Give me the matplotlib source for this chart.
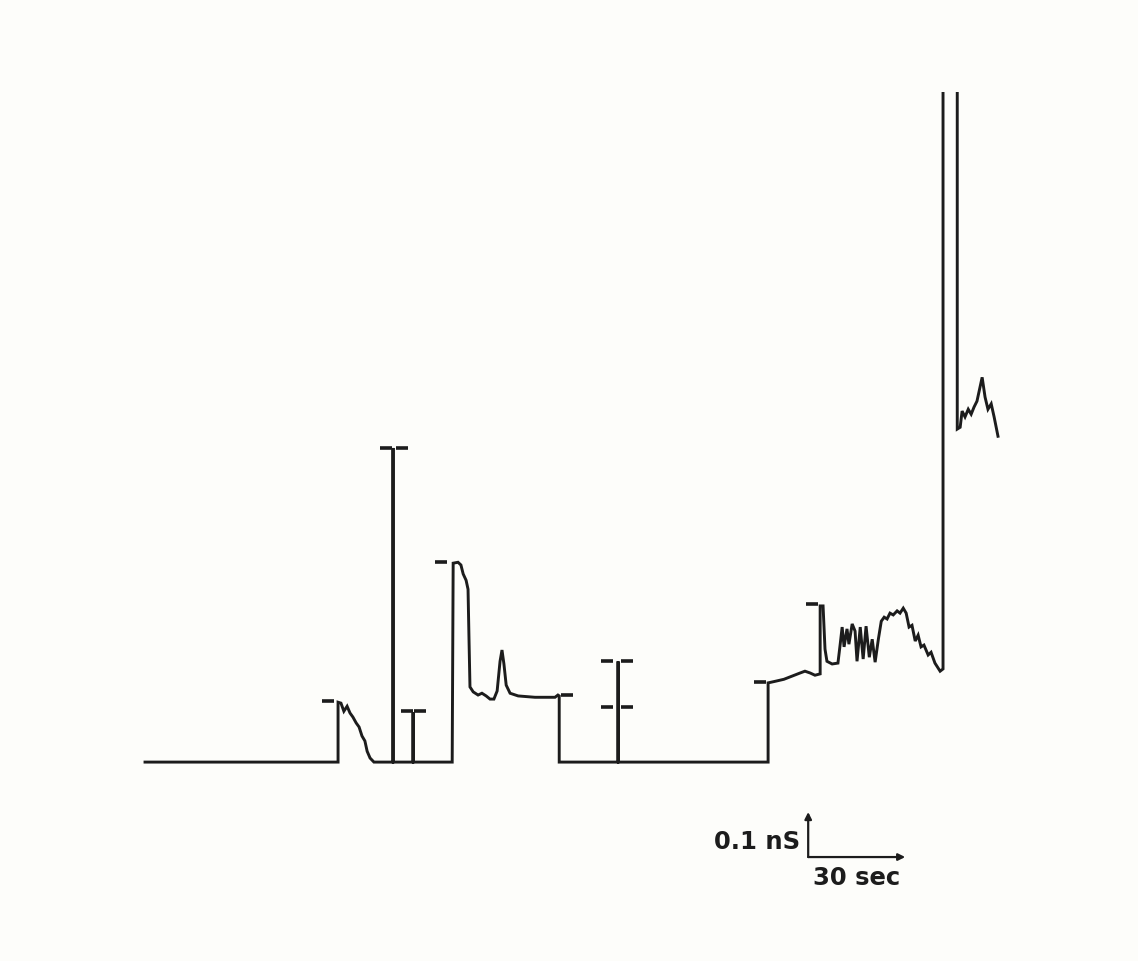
import matplotlib.pyplot as plt

# conductance trace, time in sec, conductance in nS (values > 1.5 are off scale)
trace_t = [0, 59.7, 59.7, 60.6, 61.5, 62.5, 63.4, 64.3, 65.3, 66.2, 67.1, 68.0, 68.7, 69.6, 70.8,
           76.6, 76.7, 76.8, 82.8, 82.9, 83.0,
           95.0, 95.3, 96.8, 97.7, 98.4, 99.3, 99.9, 100.2, 100.5, 101.5, 103.0, 104.2, 105.5,
           106.7, 107.9, 108.9, 109.8, 110.4, 111.0, 111.7, 112.9, 115.4, 120.6, 126.8, 127.7,
           128.1, 128.1,
           146.2, 146.3, 146.4,
           192.7, 192.7, 195.2, 197.6, 200.1, 202.6, 204.1, 205.7, 207.2, 208.8, 208.8, 209.7,
           210.3, 210.9, 212.5, 214.3, 215.0, 215.6, 216.2, 217.1, 217.7, 218.7, 219.6, 220.2,
           221.2, 222.1, 223.0, 224.0, 224.9, 225.8, 226.8, 227.7, 228.6, 229.5, 230.4, 231.4,
           232.6, 233.5, 234.5, 235.4, 236.3, 237.2, 238.2, 239.1, 240.0, 240.9, 242.2, 243.1,
           244.3, 245.9, 246.8,
           246.8, 251.2, 251.2, 252.1, 252.7, 253.6, 254.6, 255.5, 256.4, 257.3, 258.9, 259.8,
           260.7, 261.7, 262.6, 263.8]
trace_g = [0, 0, 0.133, 0.131, 0.113, 0.124, 0.109, 0.100, 0.087, 0.078, 0.058, 0.047, 0.024, 0.009, 0,
           0, 0.698, 0, 0, 0.111, 0,
           0, 0.442, 0.444, 0.438, 0.418, 0.404, 0.384, 0.273, 0.167, 0.156, 0.149, 0.153, 0.147,
           0.140, 0.140, 0.158, 0.224, 0.249, 0.218, 0.171, 0.153, 0.147, 0.144, 0.144, 0.149,
           0.147, 0,
           0, 0.224, 0,
           0, 0.176, 0.180, 0.184, 0.191, 0.198, 0.202, 0.198, 0.193, 0.196, 0.347, 0.347,
           0.251, 0.224, 0.218, 0.220, 0.262, 0.300, 0.256, 0.296, 0.262, 0.307, 0.291, 0.224,
           0.300, 0.229, 0.302, 0.233, 0.273, 0.222, 0.273, 0.313, 0.322, 0.318, 0.331, 0.327,
           0.336, 0.331, 0.342, 0.331, 0.300, 0.304, 0.269, 0.282, 0.256, 0.260, 0.238, 0.244,
           0.220, 0.202, 0.207,
           2.0, 2.0, 0.740, 0.744, 0.780, 0.767, 0.784, 0.773, 0.789, 0.802, 0.855, 0.811,
           0.784, 0.796, 0.767, 0.724]

# short level marks drawn beside the steps
mark_t = [56.6, 74.5, 79.5, 81.0, 85.1, 91.6, 130.5, 142.9, 149.1, 142.9, 149.1, 190.2, 206.3]
mark_g = [0.136, 0.698, 0.698, 0.113, 0.113, 0.444, 0.149, 0.224, 0.224, 0.122, 0.122, 0.178, 0.351]

# scale bar
bar_t0, bar_g0 = 205.1, -0.211
bar_dt, bar_dg = 30, 0.1
bar_labels = ['0.1 nS', '30 sec']

ink = '#1c1c1c'
fig = plt.figure(figsize=(11.38, 9.62), dpi=100, facecolor='#fdfdfa')
ax = fig.add_axes([0, 0, 1, 1 - 93 / 962])
ax.set_facecolor('#fdfdfa')
ax.set_xlim(-44.85, 307.1)
ax.set_ylim(-0.442, 1.489)
ax.axis('off')

ax.plot(trace_t, trace_g, color=ink, lw=2.1, solid_joinstyle='miter')
ax.plot(mark_t, mark_g, ls='none', marker='_', ms=8, mew=2.6, color=ink)

arrow = dict(arrowstyle='-|>', color=ink, lw=1.6, mutation_scale=10, shrinkA=0, shrinkB=0)
ax.annotate('', xy=(bar_t0, bar_g0 + bar_dg), xytext=(bar_t0, bar_g0), arrowprops=arrow)
ax.annotate('', xy=(bar_t0 + bar_dt, bar_g0), xytext=(bar_t0, bar_g0), arrowprops=arrow)
ax.text(bar_t0 - 2.5, bar_g0 + 0.035, bar_labels[0], ha='right', va='center',
        fontsize=17.5, fontweight='bold', color=ink)
ax.text(bar_t0 + 15, bar_g0 - 0.045, bar_labels[1], ha='center', va='center',
        fontsize=17.5, fontweight='bold', color=ink)

fig.savefig('out.png', dpi=100, facecolor=fig.get_facecolor())
